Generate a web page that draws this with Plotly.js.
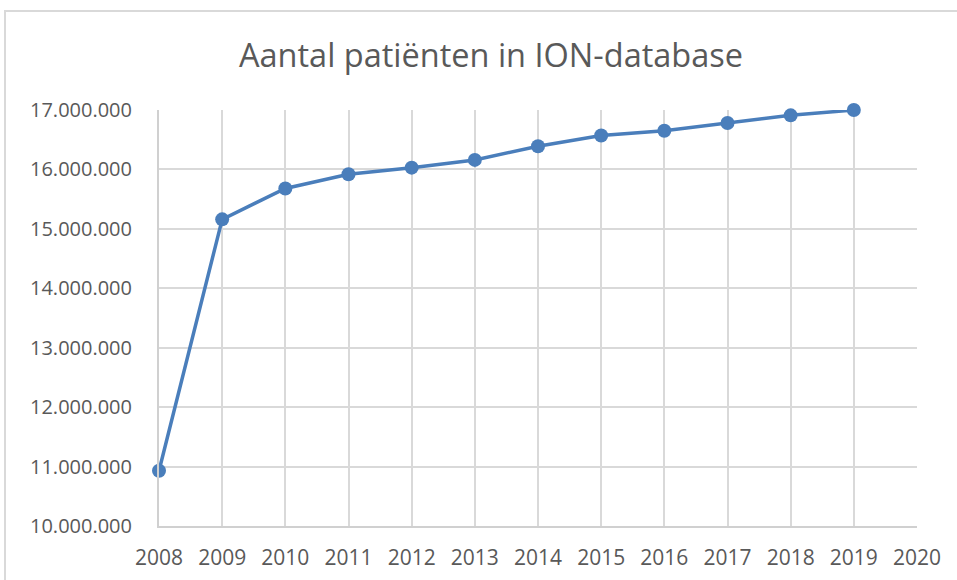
<!DOCTYPE html>
<html>
<head>
<meta charset="utf-8">
<script src="https://cdn.plot.ly/plotly-3.0.1.min.js"></script>
<style>
html,body{margin:0;padding:0;background:#fff;overflow:hidden;}
#frame{position:absolute;left:4px;top:10px;width:1200px;height:1200px;border:2px solid #d9d9d9;box-sizing:border-box;}
#chart{position:absolute;left:0;top:0;width:957px;height:580px;}
</style>
</head>
<body>
<div id="frame"></div>
<div id="chart"></div>
<script>
const years = [2008, 2009, 2010, 2011, 2012, 2013, 2014, 2015, 2016, 2017, 2018, 2019];
const patients = [10930000, 15160000, 15680000, 15920000, 16030000, 16160000, 16390000, 16570000, 16650000, 16780000, 16910000, 17000000];
const xTicks = [2008, 2009, 2010, 2011, 2012, 2013, 2014, 2015, 2016, 2017, 2018, 2019, 2020];
const yTicks = [10000000, 11000000, 12000000, 13000000, 14000000, 15000000, 16000000, 17000000];
const titleText = 'Aantal patiënten in ION-database';

const trace = {
  x: years, y: patients, type: 'scatter', mode: 'lines+markers',
  line: {color: '#4a7ebb', width: 3.5},
  marker: {color: '#4a7ebb', size: 14},
  cliponaxis: false, hoverinfo: 'none'
};

const layout = {
  width: 957, height: 580,
  margin: {l: 159, r: 40, t: 110, b: 54},
  paper_bgcolor: 'rgba(0,0,0,0)', plot_bgcolor: 'rgba(0,0,0,0)',
  separators: ',.',
  font: {family: '"Open Sans", Lato, sans-serif', color: '#595959', size: 20},
  title: {text: titleText, font: {size: 32.5, color: '#595959'}, x: 491/957, xref: 'container', xanchor: 'center', y: 1 - 56/580, yanchor: 'middle', yref: 'container'},
  showlegend: false,
  xaxis: {
    range: [2008, 2020], tickvals: xTicks, ticktext: xTicks.map(String),
    showgrid: true, gridcolor: '#d9d9d9', gridwidth: 2,
    showline: true, linecolor: '#d0d0d0', linewidth: 2,
    zeroline: false, ticks: '', ticklabelstandoff: 12, tickfont: {size: 21, color: '#595959'}
  },
  yaxis: {
    range: [10000000, 17000000], tickvals: yTicks, tickformat: ',d',
    showgrid: true, gridcolor: '#d9d9d9', gridwidth: 2,
    showline: true, linecolor: '#d0d0d0', linewidth: 2,
    zeroline: false, ticks: '', ticklabelstandoff: 21, tickfont: {size: 20, color: '#595959'}
  }
};

Plotly.newPlot('chart', [trace], layout, {staticPlot: true, displayModeBar: false});
</script>
</body>
</html>
